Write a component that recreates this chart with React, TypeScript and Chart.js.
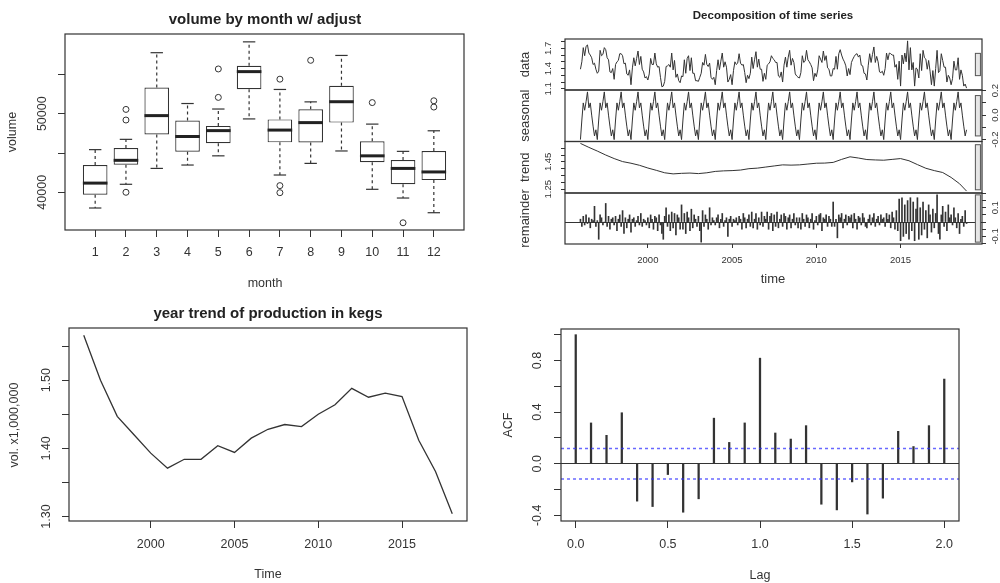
import React, { useEffect, useRef } from "react";
import { Chart, registerables } from "chart.js";

Chart.register(...registerables);

const PAGE_W = 1000;
const PAGE_H = 583;
const SANS = "'Liberation Sans', Arial, Helvetica, sans-serif";
const INK = "#333333";

// ---------------- 1. volume by month w/ adjust (boxplot) ----------------
const MONTHS = [1, 2, 3, 4, 5, 6, 7, 8, 9, 10, 11, 12];
const BOX_LOWER = [38000, 41020, 43040, 43470, 44640, 49340, 42200, 43680, 45260, 40380, 39270, 37400];
const BOX_Q1 = [39680, 43500, 47360, 45170, 46240, 53130, 46360, 46340, 48870, 43830, 41020, 41550];
const BOX_MEDIAN = [41170, 44070, 49760, 47100, 47850, 55360, 47920, 48870, 51530, 44640, 43040, 42590];
const BOX_Q3 = [43470, 45640, 53340, 49130, 48450, 56110, 49280, 50580, 53550, 46490, 44110, 45250];
const BOX_UPPER = [45430, 46740, 57770, 51300, 50600, 59150, 53090, 51510, 57420, 48680, 45210, 47830];
const OUTLIER_MONTH = [2, 2, 2, 5, 5, 7, 7, 7, 8, 10, 11, 12, 12];
const OUTLIER_VALUE = [50550, 49200, 40000, 55700, 52080, 54400, 40850, 39950, 56800, 51420, 36120, 51650, 50850];
const VOLUME_TICKS = [40000, 45000, 50000, 55000];
const VOLUME_LABELS = [40000, 50000];

// ---------------- 2. decomposition of time series (monthly, from Jan 1996) ----------------
const DECOMP_START = 1996;
const DECOMP_DATA = [
  1.39, 1.50, 1.71, 1.59, 1.73, 1.75, 1.63, 1.60, 1.56, 1.46, 1.48, 1.39,
  1.33, 1.36, 1.67, 1.59, 1.61, 1.71, 1.68, 1.56, 1.53, 1.35, 1.34, 1.40,
  1.24, 1.46, 1.50, 1.52, 1.62, 1.62, 1.59, 1.47, 1.48, 1.32, 1.30, 1.38,
  1.16, 1.41, 1.56, 1.44, 1.55, 1.66, 1.46, 1.58, 1.39, 1.35, 1.26, 1.28,
  1.23, 1.32, 1.55, 1.46, 1.46, 1.63, 1.47, 1.42, 1.43, 1.27, 1.13, 1.14,
  1.21, 1.43, 1.44, 1.46, 1.42, 1.63, 1.38, 1.52, 1.27, 1.32, 1.22, 1.19,
  1.29, 1.28, 1.53, 1.33, 1.55, 1.59, 1.37, 1.56, 1.33, 1.33, 1.22, 1.22,
  1.21, 1.27, 1.33, 1.49, 1.45, 1.61, 1.46, 1.43, 1.48, 1.27, 1.24, 1.27,
  1.16, 1.37, 1.53, 1.38, 1.51, 1.63, 1.42, 1.50, 1.42, 1.20, 1.24, 1.31,
  1.16, 1.37, 1.50, 1.46, 1.48, 1.62, 1.48, 1.45, 1.46, 1.34, 1.19, 1.30,
  1.25, 1.33, 1.57, 1.40, 1.53, 1.65, 1.42, 1.54, 1.39, 1.39, 1.21, 1.33,
  1.24, 1.45, 1.47, 1.50, 1.59, 1.55, 1.53, 1.49, 1.49, 1.29, 1.27, 1.35,
  1.20, 1.45, 1.57, 1.42, 1.57, 1.67, 1.45, 1.55, 1.49, 1.32, 1.29, 1.27,
  1.26, 1.34, 1.59, 1.49, 1.51, 1.67, 1.53, 1.50, 1.46, 1.41, 1.22, 1.33,
  1.28, 1.38, 1.59, 1.54, 1.49, 1.66, 1.52, 1.59, 1.41, 1.39, 1.29, 1.29,
  1.40, 1.39, 1.58, 1.39, 1.62, 1.68, 1.60, 1.54, 1.50, 1.44, 1.29, 1.40,
  1.31, 1.49, 1.54, 1.58, 1.61, 1.62, 1.57, 1.60, 1.45, 1.44, 1.33, 1.32,
  1.23, 1.45, 1.62, 1.49, 1.61, 1.72, 1.49, 1.58, 1.50, 1.35, 1.34, 1.36,
  1.30, 1.40, 1.63, 1.53, 1.63, 1.62, 1.60, 1.60, 1.42, 1.46, 1.24, 1.51,
  1.14, 1.60, 1.47, 1.63, 1.50, 1.81, 1.38, 1.71, 1.38, 1.49, 1.14, 1.41,
  1.39, 1.26, 1.62, 1.37, 1.67, 1.56, 1.54, 1.39, 1.52, 1.36, 1.16, 1.37,
  1.14, 1.40, 1.67, 1.34, 1.37, 1.62, 1.52, 1.42, 1.42, 1.20, 1.30, 1.26,
  1.16, 1.25, 1.51, 1.38, 1.38, 1.56, 1.24, 1.38, 1.30, 1.14, 1.17, 1.11,
];
const DECOMP_SEASONAL = [
  -0.20, -0.04, 0.10, 0.04, 0.11, 0.19, 0.06, 0.10, 0.00, -0.09, -0.17, -0.12,
  -0.20, -0.04, 0.10, 0.04, 0.11, 0.19, 0.06, 0.10, 0.00, -0.09, -0.17, -0.12,
  -0.20, -0.04, 0.10, 0.04, 0.11, 0.19, 0.06, 0.10, 0.00, -0.09, -0.17, -0.12,
  -0.20, -0.04, 0.10, 0.04, 0.11, 0.19, 0.06, 0.10, 0.00, -0.09, -0.17, -0.12,
  -0.20, -0.04, 0.10, 0.04, 0.11, 0.19, 0.06, 0.10, 0.00, -0.09, -0.17, -0.12,
  -0.20, -0.04, 0.10, 0.04, 0.11, 0.19, 0.06, 0.10, 0.00, -0.09, -0.17, -0.12,
  -0.20, -0.04, 0.10, 0.04, 0.11, 0.19, 0.06, 0.10, 0.00, -0.09, -0.17, -0.12,
  -0.20, -0.04, 0.10, 0.04, 0.11, 0.19, 0.06, 0.10, 0.00, -0.09, -0.17, -0.12,
  -0.20, -0.04, 0.10, 0.04, 0.11, 0.19, 0.06, 0.10, 0.00, -0.09, -0.17, -0.12,
  -0.20, -0.04, 0.10, 0.04, 0.11, 0.19, 0.06, 0.10, 0.00, -0.09, -0.17, -0.12,
  -0.20, -0.04, 0.10, 0.04, 0.11, 0.19, 0.06, 0.10, 0.00, -0.09, -0.17, -0.12,
  -0.20, -0.04, 0.10, 0.04, 0.11, 0.19, 0.06, 0.10, 0.00, -0.09, -0.17, -0.12,
  -0.20, -0.04, 0.10, 0.04, 0.11, 0.19, 0.06, 0.10, 0.00, -0.09, -0.17, -0.12,
  -0.20, -0.04, 0.10, 0.04, 0.11, 0.19, 0.06, 0.10, 0.00, -0.09, -0.17, -0.12,
  -0.20, -0.04, 0.10, 0.04, 0.11, 0.19, 0.06, 0.10, 0.00, -0.09, -0.17, -0.12,
  -0.20, -0.04, 0.10, 0.04, 0.11, 0.19, 0.06, 0.10, 0.00, -0.09, -0.17, -0.12,
  -0.20, -0.04, 0.10, 0.04, 0.11, 0.19, 0.06, 0.10, 0.00, -0.09, -0.17, -0.12,
  -0.20, -0.04, 0.10, 0.04, 0.11, 0.19, 0.06, 0.10, 0.00, -0.09, -0.17, -0.12,
  -0.20, -0.04, 0.10, 0.04, 0.11, 0.19, 0.06, 0.10, 0.00, -0.09, -0.17, -0.12,
  -0.20, -0.04, 0.10, 0.04, 0.11, 0.19, 0.06, 0.10, 0.00, -0.09, -0.17, -0.12,
  -0.20, -0.04, 0.10, 0.04, 0.11, 0.19, 0.06, 0.10, 0.00, -0.09, -0.17, -0.12,
  -0.20, -0.04, 0.10, 0.04, 0.11, 0.19, 0.06, 0.10, 0.00, -0.09, -0.17, -0.12,
  -0.20, -0.04, 0.10, 0.04, 0.11, 0.19, 0.06, 0.10, 0.00, -0.09, -0.17, -0.12,
];
const TREND_TIME = [
  1996, 1996.5, 1997, 1997.5, 1998, 1998.5, 1999, 1999.5, 2000, 2000.5, 2001, 2001.5,
  2002, 2002.5, 2003, 2003.5, 2004, 2004.5, 2005, 2005.5, 2006, 2006.5, 2007, 2007.5,
  2008, 2008.5, 2009, 2009.5, 2010, 2010.5, 2011, 2011.5, 2012, 2012.5, 2013, 2013.5,
  2014, 2014.5, 2015, 2015.5, 2016, 2016.5, 2017, 2017.5, 2018, 2018.5, 2018.917,
];
const DECOMP_TREND = [
  1.585, 1.556, 1.529, 1.500, 1.474, 1.452, 1.440, 1.425, 1.405, 1.388, 1.370, 1.362,
  1.366, 1.368, 1.364, 1.370, 1.380, 1.384, 1.386, 1.390, 1.400, 1.404, 1.412, 1.420,
  1.428, 1.426, 1.428, 1.434, 1.440, 1.441, 1.446, 1.468, 1.487, 1.478, 1.467, 1.464,
  1.462, 1.468, 1.474, 1.458, 1.430, 1.403, 1.386, 1.372, 1.336, 1.290, 1.236,
];
const DECOMP_REMAINDER = [
  0.02, -0.03, 0.04, -0.02, 0.05, -0.01, 0.03, -0.04, 0.02, 0.01, 0.11, -0.03,
  0.01, -0.12, 0.05, 0.03, -0.02, 0.00, 0.13, -0.03, 0.04, -0.05, 0.02, 0.03,
  -0.02, 0.04, -0.06, 0.02, 0.05, -0.03, 0.08, -0.08, 0.03, -0.04, 0.02, 0.05,
  -0.07, 0.02, 0.03, -0.03, 0.01, 0.04, -0.02, 0.06, -0.03, 0.02, 0.01, -0.02,
  0.03, -0.04, 0.05, 0.02, -0.05, 0.04, 0.03, -0.06, 0.05, -0.02, -0.08, -0.12,
  0.04, 0.10, -0.03, 0.05, -0.06, 0.07, -0.04, 0.06, -0.09, 0.05, 0.03, -0.05,
  0.12, -0.05, 0.06, -0.08, 0.07, 0.03, -0.06, 0.09, -0.04, 0.05, 0.02, -0.03,
  0.04, -0.06, -0.14, 0.08, -0.03, 0.05, 0.02, -0.05, 0.10, -0.02, 0.03, 0.01,
  -0.02, 0.03, 0.05, -0.04, 0.02, 0.06, -0.03, 0.01, 0.03, -0.10, 0.02, 0.04,
  -0.03, 0.02, 0.01, 0.03, -0.02, 0.04, 0.02, -0.05, 0.06, 0.03, -0.04, 0.02,
  0.05, -0.03, 0.07, -0.04, 0.02, 0.06, -0.05, 0.03, -0.02, 0.07, -0.03, 0.04,
  0.02, 0.07, -0.05, 0.04, 0.06, -0.06, 0.05, -0.03, 0.07, -0.04, 0.02, 0.05,
  -0.03, 0.06, 0.04, -0.05, 0.03, 0.05, -0.04, 0.02, 0.06, -0.02, 0.03, -0.04,
  0.03, -0.05, 0.06, 0.02, -0.03, 0.05, 0.03, -0.04, 0.02, 0.06, -0.05, 0.01,
  0.04, -0.02, 0.05, 0.06, -0.06, 0.03, 0.02, 0.05, -0.03, 0.04, 0.02, -0.03,
  0.14, -0.03, 0.02, -0.11, 0.05, 0.03, 0.06, -0.04, 0.02, 0.05, -0.02, 0.04,
  0.03, 0.05, -0.04, 0.06, 0.02, -0.05, 0.04, 0.03, -0.02, 0.06, 0.03, -0.03,
  -0.04, 0.02, 0.05, -0.02, 0.03, 0.06, -0.03, 0.02, 0.04, -0.02, 0.05, 0.02,
  0.03, -0.03, 0.06, 0.02, 0.05, -0.04, 0.07, 0.03, -0.05, 0.08, -0.06, 0.16,
  -0.13, 0.17, -0.10, 0.12, -0.08, 0.15, -0.12, 0.17, -0.06, 0.14, -0.13, 0.09,
  0.17, -0.12, 0.10, -0.09, 0.14, -0.05, 0.08, -0.11, 0.12, 0.05, -0.07, 0.09,
  -0.04, 0.06, 0.19, -0.08, -0.12, 0.05, 0.11, -0.03, 0.07, -0.06, 0.12, 0.03,
  0.05, -0.02, 0.10, 0.03, -0.04, 0.06, -0.08, 0.02, 0.04, -0.03, 0.08, -0.01,
];
const DATA_TICKS = [1.1, 1.2, 1.3, 1.4, 1.5, 1.6, 1.7, 1.8];
const DATA_LABELS = [1.1, 1.4, 1.7];
const SEASONAL_TICKS = [-0.2, -0.1, 0, 0.1, 0.2];
const SEASONAL_LABELS = [-0.2, 0, 0.2];
const TREND_TICKS = [1.25, 1.3, 1.35, 1.4, 1.45, 1.5, 1.55];
const TREND_LABELS = [1.25, 1.45];
const REMAINDER_TICKS = [-0.15, -0.1, -0.05, 0, 0.05, 0.1, 0.15, 0.2];
const REMAINDER_LABELS = [-0.1, 0.1];
const DECOMP_YEAR_TICKS = [2000, 2005, 2010, 2015];

// ---------------- 3. year trend of production in kegs ----------------
const YEARS = [1996, 1997, 1998, 1999, 2000, 2001, 2002, 2003, 2004, 2005, 2006, 2007,
  2008, 2009, 2010, 2011, 2012, 2013, 2014, 2015, 2016, 2017, 2018];
const YEAR_VOLUME = [1.566, 1.500, 1.447, 1.420, 1.393, 1.371, 1.384, 1.384, 1.404, 1.394, 1.415, 1.428,
  1.435, 1.432, 1.450, 1.464, 1.488, 1.475, 1.481, 1.476, 1.412, 1.366, 1.304];
const YEAR_TICKS = [2000, 2005, 2010, 2015];
const VOL_TICKS = [1.30, 1.35, 1.40, 1.45, 1.50, 1.55];
const VOL_LABELS = [1.30, 1.40, 1.50];

// ---------------- 4. ACF ----------------
const ACF_LAG = [0, 0.083, 0.167, 0.25, 0.333, 0.417, 0.5, 0.583, 0.667, 0.75, 0.833, 0.917,
  1, 1.083, 1.167, 1.25, 1.333, 1.417, 1.5, 1.583, 1.667, 1.75, 1.833, 1.917, 2];
const ACF_VALUE = [1.0, 0.316, 0.22, 0.395, -0.29, -0.332, -0.084, -0.376, -0.272, 0.353, 0.165, 0.316,
  0.818, 0.238, 0.191, 0.295, -0.314, -0.358, -0.141, -0.39, -0.267, 0.251, 0.133, 0.295, 0.656];
const ACF_BOUND = 0.118;
const ACF_X_TICKS = [0, 0.5, 1, 1.5, 2];
const ACF_Y_TICKS = [-0.4, -0.2, 0, 0.2, 0.4, 0.6, 0.8, 1.0];
const ACF_Y_LABELS = [-0.4, 0, 0.4, 0.8];

// ---------------- helpers ----------------
const COMMON = {
  responsive: false,
  animation: false,
  events: [],
  plugins: { legend: { display: false }, tooltip: { enabled: false }, title: { display: false } },
};

function pad(L: number, T: number, R: number, B: number, leftW: number, rightW: number, bottomH: number) {
  return { left: L - leftW, top: T, right: PAGE_W - R - rightW, bottom: PAGE_H - B - bottomH };
}

function xAxis(min: number, max: number, ticks: number[], fmt: (v: number) => string, size: number, tickLen: number, padding: number, height: number) {
  return {
    type: "linear", min, max, offset: false, display: true,
    afterBuildTicks: (s: any) => { s.ticks = ticks.map((v) => ({ value: v })); },
    afterFit: (s: any) => { s.height = height; },
    ticks: { display: true, autoSkip: false, maxRotation: 0, minRotation: 0, padding, color: INK, font: { family: SANS, size }, callback: (v: any) => fmt(Number(v)) },
    grid: { display: true, offset: false, drawOnChartArea: false, drawTicks: true, tickLength: tickLen, tickColor: INK, tickWidth: 1 },
    border: { display: false },
  };
}

function hiddenX(min: number, max: number) {
  return { type: "linear", min, max, offset: false, display: false };
}

function yAxis(min: number, max: number, ticks: number[], position: string, tickLen: number, zeroLine = false) {
  return {
    type: "linear", position, min, max, offset: false,
    afterBuildTicks: (s: any) => { s.ticks = ticks.map((v) => ({ value: v })); },
    afterFit: (s: any) => { s.width = tickLen; },
    ticks: { display: false },
    grid: {
      display: true, offset: false, drawOnChartArea: zeroLine, drawTicks: true, tickLength: tickLen,
      tickColor: INK, tickWidth: 1, lineWidth: 1,
      color: (c: any) => (zeroLine && c.tick && Math.abs(c.tick.value) < 1e-9 ? INK : "rgba(0,0,0,0)"),
    },
    border: { display: false },
  };
}

type TextItem = { text: string; x: number; y: number; size: number; bold?: boolean; rotate?: boolean };
type AxisLabels = { scale: string; values: number[]; digits: number; x: number; size: number };
type Deco = {
  frame?: boolean;
  texts?: TextItem[];
  axisLabels?: AxisLabels[];
  rangeBar?: { x0: number; x1: number; mid: number; len: number };
};

function makeDeco(o: Deco) {
  return {
    id: "rDeco",
    afterDraw(chart: any) {
      const ctx = chart.ctx as CanvasRenderingContext2D;
      const a = chart.chartArea;
      ctx.save();
      if (o.rangeBar) {
        const xs = chart.scales.x;
        const ys = chart.scales.y;
        const px0 = xs.getPixelForValue(o.rangeBar.x0);
        const px1 = xs.getPixelForValue(o.rangeBar.x1);
        const py0 = ys.getPixelForValue(o.rangeBar.mid + o.rangeBar.len / 2);
        const py1 = ys.getPixelForValue(o.rangeBar.mid - o.rangeBar.len / 2);
        ctx.fillStyle = "#e6e6e6";
        ctx.fillRect(px0, py0, px1 - px0, py1 - py0);
        ctx.strokeStyle = "#555";
        ctx.lineWidth = 1;
        ctx.strokeRect(px0, py0, px1 - px0, py1 - py0);
      }
      if (o.frame) {
        ctx.strokeStyle = INK;
        ctx.lineWidth = 1.2;
        ctx.strokeRect(a.left, a.top, a.right - a.left, a.bottom - a.top);
      }
      ctx.fillStyle = INK;
      ctx.textAlign = "center";
      ctx.textBaseline = "middle";
      for (const al of o.axisLabels || []) {
        const s = chart.scales[al.scale];
        ctx.font = `${al.size}px ${SANS}`;
        for (const v of al.values) {
          const py = s.getPixelForValue(v);
          ctx.save();
          ctx.translate(al.x, py);
          ctx.rotate(-Math.PI / 2);
          ctx.fillText(v.toFixed(al.digits), 0, 0);
          ctx.restore();
        }
      }
      for (const t of o.texts || []) {
        ctx.font = `${t.bold ? "bold " : ""}${t.size}px ${SANS}`;
        ctx.fillStyle = t.bold ? "#222" : INK;
        ctx.save();
        ctx.translate(t.x, t.y);
        if (t.rotate) ctx.rotate(-Math.PI / 2);
        ctx.fillText(t.text, 0, 0);
        ctx.restore();
      }
      ctx.restore();
    },
  };
}

// ---------------- chart 1: boxplot ----------------
function makeBoxplot() {
  const whiskers: any[] = [];
  const caps: any[] = [];
  MONTHS.forEach((m, i) => {
    whiskers.push({ x: m, y: BOX_Q3[i] }, { x: m, y: BOX_UPPER[i] }, { x: m, y: null });
    whiskers.push({ x: m, y: BOX_Q1[i] }, { x: m, y: BOX_LOWER[i] }, { x: m, y: null });
    caps.push({ x: m, y: BOX_UPPER[i] }, { x: m, y: BOX_LOWER[i] });
  });
  return {
    type: "bar",
    data: {
      datasets: [
        { type: "line", data: whiskers, borderColor: INK, borderWidth: 1.2, borderDash: [3, 3], pointRadius: 0, spanGaps: false, order: 4 },
        {
          type: "bar", data: MONTHS.map((m, i) => ({ x: m, y: [BOX_Q1[i], BOX_Q3[i]] })),
          backgroundColor: "#ffffff", borderColor: INK, borderWidth: 1.2, borderSkipped: false,
          barPercentage: 0.8, categoryPercentage: 1, order: 3,
        },
        { type: "line", data: caps, showLine: false, pointStyle: "line", pointRadius: 6.2, pointBorderColor: INK, pointBorderWidth: 1.2, order: 2 },
        {
          type: "line", data: MONTHS.map((m, i) => ({ x: m, y: BOX_MEDIAN[i] })), showLine: false,
          pointStyle: "line", pointRadius: 12.3, pointBorderColor: "#222", pointBorderWidth: 3, order: 1,
        },
        {
          type: "line", data: OUTLIER_MONTH.map((m, i) => ({ x: m, y: OUTLIER_VALUE[i] })), showLine: false,
          pointStyle: "circle", pointRadius: 3, pointBackgroundColor: "rgba(0,0,0,0)", pointBorderColor: INK, pointBorderWidth: 1, order: 1,
        },
      ],
    },
    options: {
      ...COMMON,
      layout: { padding: pad(65, 34, 464, 230, 7, 0, 40), autoPadding: false },
      scales: {
        x: xAxis(0.02, 12.98, MONTHS, (v) => String(v), 12.5, 7, 8.5, 40),
        y: yAxis(35200, 60150, VOLUME_TICKS, "left", 7),
      },
    },
    plugins: [makeDeco({
      frame: true,
      axisLabels: [{ scale: "y", values: VOLUME_LABELS, digits: 0, x: 43, size: 12.5 }],
      texts: [
        { text: "volume by month w/ adjust", x: 265, y: 20, size: 15, bold: true },
        { text: "volume", x: 13, y: 132, size: 12.5, rotate: true },
        { text: "month", x: 265, y: 284, size: 12.5 },
      ],
    })],
  };
}

// ---------------- chart 2: decomposition panels ----------------
const DEC_L = 565;
const DEC_R = 982;
const DEC_XMIN = 1995.083;
const DEC_XMAX = 2019.833;
const RANGE_X0 = 2019.44;
const RANGE_X1 = 2019.74;
const span = (a: number[]) => Math.max(...a) - Math.min(...a);
const mid = (a: number[]) => (Math.max(...a) + Math.min(...a)) / 2;
const RANGE_LEN = Math.min(span(DECOMP_DATA), span(DECOMP_SEASONAL), span(DECOMP_TREND), span(DECOMP_REMAINDER));
const monthly = (arr: number[]) => arr.map((v, i) => ({ x: DECOMP_START + i / 12, y: v }));

function decompLine(points: any[], top: number, bottom: number, yMin: number, yMax: number, ticks: number[], labels: number[], digits: number, side: string, name: string, series: number[], extraTexts: TextItem[]) {
  const left = side === "left";
  return {
    type: "line",
    data: { datasets: [{ data: points, borderColor: INK, borderWidth: 1, pointRadius: 0, tension: 0 }] },
    options: {
      ...COMMON,
      layout: { padding: pad(DEC_L, top, DEC_R, bottom, left ? 4 : 0, left ? 0 : 4, 0), autoPadding: false },
      scales: { x: hiddenX(DEC_XMIN, DEC_XMAX), y: yAxis(yMin, yMax, ticks, side, 4) },
    },
    plugins: [makeDeco({
      frame: true,
      rangeBar: { x0: RANGE_X0, x1: RANGE_X1, mid: mid(series), len: RANGE_LEN },
      axisLabels: [{ scale: "y", values: labels, digits, x: left ? 548 : 995, size: 9.5 }],
      texts: [{ text: name, x: 525, y: (top + bottom) / 2, size: 13, rotate: true }, ...extraTexts],
    })],
  };
}

function makeDecompData() {
  return decompLine(monthly(DECOMP_DATA), 39, 90, 1.082, 1.838, DATA_TICKS, DATA_LABELS, 1, "left", "data", DECOMP_DATA,
    [{ text: "Decomposition of time series", x: 773, y: 16, size: 11.5, bold: true }]);
}
function makeDecompSeasonal() {
  return decompLine(monthly(DECOMP_SEASONAL), 90, 141.5, -0.2156, 0.2056, SEASONAL_TICKS, SEASONAL_LABELS, 1, "right", "seasonal", DECOMP_SEASONAL, []);
}
function makeDecompTrend() {
  return decompLine(TREND_TIME.map((t, i) => ({ x: t, y: DECOMP_TREND[i] })), 141.5, 193, 1.222, 1.599, TREND_TICKS, TREND_LABELS, 2, "left", "trend", DECOMP_TREND, []);
}
function makeDecompRemainder() {
  return {
    type: "bar",
    data: { datasets: [{ data: monthly(DECOMP_REMAINDER), backgroundColor: INK, borderWidth: 0, barThickness: 1 }] },
    options: {
      ...COMMON,
      layout: { padding: pad(DEC_L, 193, DEC_R, 244, 0, 4, 30), autoPadding: false },
      scales: {
        x: xAxis(DEC_XMIN, DEC_XMAX, DECOMP_YEAR_TICKS, (v) => String(v), 9.5, 4, 6.3, 30),
        y: yAxis(-0.153, 0.203, REMAINDER_TICKS, "right", 4, true),
      },
    },
    plugins: [makeDeco({
      frame: true,
      rangeBar: { x0: RANGE_X0, x1: RANGE_X1, mid: mid(DECOMP_REMAINDER), len: RANGE_LEN },
      axisLabels: [{ scale: "y", values: REMAINDER_LABELS, digits: 1, x: 995, size: 9.5 }],
      texts: [
        { text: "remainder", x: 525, y: 218.5, size: 13, rotate: true },
        { text: "time", x: 773, y: 279, size: 13 },
      ],
    })],
  };
}

// ---------------- chart 3: yearly trend ----------------
function makeYearTrend() {
  return {
    type: "line",
    data: { datasets: [{ data: YEARS.map((y, i) => ({ x: y, y: YEAR_VOLUME[i] })), borderColor: INK, borderWidth: 1.3, pointRadius: 0, tension: 0 }] },
    options: {
      ...COMMON,
      layout: { padding: pad(69, 328, 467, 521, 7, 0, 40), autoPadding: false },
      scales: {
        x: xAxis(1995.12, 2018.88, YEAR_TICKS, (v) => String(v), 12.5, 7, 9.5, 40),
        y: yAxis(1.2935, 1.5765, VOL_TICKS, "left", 7),
      },
    },
    plugins: [makeDeco({
      frame: true,
      axisLabels: [{ scale: "y", values: VOL_LABELS, digits: 2, x: 46.5, size: 12.5 }],
      texts: [
        { text: "year trend of production in kegs", x: 268, y: 314, size: 15, bold: true },
        { text: "vol. x1,000,000", x: 15, y: 425, size: 12.5, rotate: true },
        { text: "Time", x: 268, y: 575, size: 12.5 },
      ],
    })],
  };
}

// ---------------- chart 4: ACF ----------------
const ACF_XMIN = -0.08;
const ACF_XMAX = 2.08;
function makeAcf() {
  const bound = (b: number) => ({
    type: "line", data: [{ x: ACF_XMIN, y: b }, { x: ACF_XMAX, y: b }],
    borderColor: "rgba(40,40,255,0.7)", borderDash: [3, 3], borderWidth: 1.5, pointRadius: 0, order: 1,
  });
  return {
    type: "bar",
    data: {
      datasets: [
        { type: "bar", data: ACF_LAG.map((l, i) => ({ x: l, y: ACF_VALUE[i] })), backgroundColor: INK, borderWidth: 0, barThickness: 1.6, order: 2 },
        bound(ACF_BOUND),
        bound(-ACF_BOUND),
      ],
    },
    options: {
      ...COMMON,
      layout: { padding: pad(561, 329, 959, 521, 7, 0, 40), autoPadding: false },
      scales: {
        x: xAxis(ACF_XMIN, ACF_XMAX, ACF_X_TICKS, (v) => v.toFixed(1), 12.5, 7, 9.5, 40),
        y: yAxis(-0.444, 1.044, ACF_Y_TICKS, "left", 7, true),
      },
    },
    plugins: [makeDeco({
      frame: true,
      axisLabels: [{ scale: "y", values: ACF_Y_LABELS, digits: 1, x: 538, size: 12.5 }],
      texts: [
        { text: "ACF", x: 509, y: 425, size: 12.5, rotate: true },
        { text: "Lag", x: 760, y: 576, size: 12.5 },
      ],
    })],
  };
}

const MAKERS = [makeBoxplot, makeDecompData, makeDecompSeasonal, makeDecompTrend, makeDecompRemainder, makeYearTrend, makeAcf];

function ChartCanvas({ make }: { make: () => any }) {
  const ref = useRef<HTMLCanvasElement | null>(null);
  useEffect(() => {
    if (!ref.current) return;
    const chart = new Chart(ref.current, make());
    return () => chart.destroy();
  }, [make]);
  return (
    <canvas
      ref={ref}
      width={PAGE_W}
      height={PAGE_H}
      style={{ position: "absolute", left: 0, top: 0, width: PAGE_W, height: PAGE_H }}
    />
  );
}

export default function App() {
  return (
    <div style={{ position: "fixed", left: 0, top: 0, width: PAGE_W, height: PAGE_H, background: "#ffffff", overflow: "hidden" }}>
      {MAKERS.map((m, i) => (
        <ChartCanvas key={i} make={m} />
      ))}
    </div>
  );
}
